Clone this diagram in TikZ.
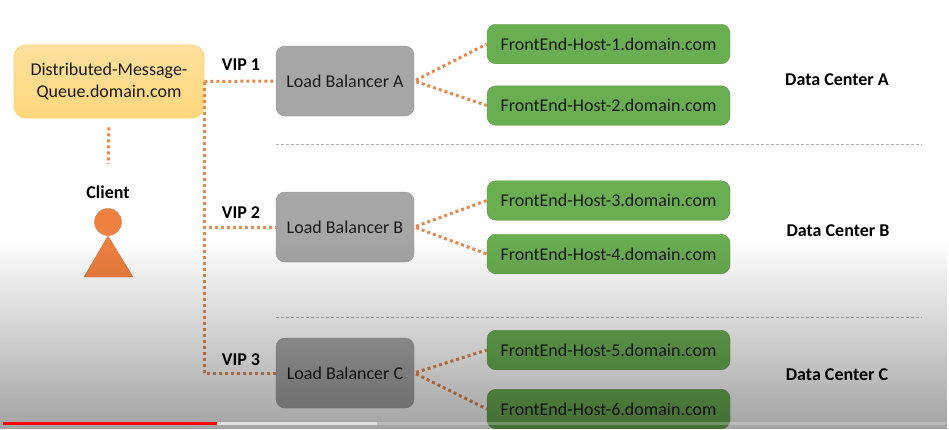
\documentclass[tikz,border=0pt]{standalone}
\usepackage{fontspec}
\setmainfont{Carlito}
\usetikzlibrary{fadings}
\definecolor{linkorange}{HTML}{E58A4E}
\definecolor{personorange}{HTML}{F08040}
\definecolor{queueyellow}{HTML}{FFD475}
\definecolor{hostgreen}{HTML}{6AAE52}
\definecolor{balgray}{HTML}{A6A6A6}
\tikzset{
  box/.style={rectangle,rounded corners=9pt,inner sep=0pt,align=center,text=black!90,font=\fontsize{18}{22}\selectfont},
  queuebox/.style={box,draw=#1,line width=0.8pt,top color=#1!70!white,bottom color=#1!95!white,minimum width=190pt,minimum height=73pt,rounded corners=12pt},
  balbox/.style={box,draw=balgray!90!black,fill=balgray,minimum width=138pt,minimum height=70pt},
  hostbox/.style={box,draw=hostgreen!85!black,fill=hostgreen,minimum width=243pt,minimum height=39.5pt},
  tag/.style={font=\bfseries\fontsize{18}{22}\selectfont,text=black},
  link/.style={draw=linkorange,line width=3pt,dash pattern=on 3pt off 3pt},
  sep/.style={draw=black!30,line width=0.6pt,dash pattern=on 3pt off 2pt},
}
\begin{document}
\begin{tikzpicture}[x=1pt,y=-1pt]
    \useasboundingbox (0,0) rectangle (949,429);
    \fill[white] (0,0) rectangle (949,429);

    % Separatori
    \coordinate (sepA1) at (276,144);
    \coordinate (sepA2) at (922,144);
    \coordinate (sepB1) at (276,317);
    \coordinate (sepB2) at (922,317);
    \draw[sep] (sepA1) -- (sepA2);
    \draw[sep] (sepB1) -- (sepB2);

    % Client
    \node[queuebox=queueyellow] (queue) at (109,81.5) {Distributed-Message-\\Queue.domain.com};
    \node[tag] (clientlabel) at (108,192) {Client};
    \node[circle,draw=linkorange!90!black,fill=personorange,minimum size=27pt,inner sep=0pt] (head) at (108,222) {};
    \fill[personorange,draw=linkorange!90!black,line width=0.4pt] (108,236) -- (133,277) -- (84,277) -- cycle;

    % Load balancer
    \node[balbox] (lbA) at (345,81) {Load Balancer A};
    \node[balbox] (lbB) at (345,227) {Load Balancer B};
    \node[balbox] (lbC) at (345,373) {Load Balancer C};

    % Host
    \node[hostbox] (host1) at (608.5,44) {FrontEnd-Host-1.domain.com};
    \node[hostbox] (host2) at (608.5,105.5) {FrontEnd-Host-2.domain.com};
    \node[hostbox] (host3) at (608.5,200.5) {FrontEnd-Host-3.domain.com};
    \node[hostbox] (host4) at (608.5,254) {FrontEnd-Host-4.domain.com};
    \node[hostbox] (host5) at (608.5,350) {FrontEnd-Host-5.domain.com};
    \node[hostbox] (host6) at (608.5,409) {FrontEnd-Host-6.domain.com};

    % Collegamenti
    \draw[link,shorten <=9pt,shorten >=18pt] (queue.south) -- (clientlabel.north);
    \draw[link] (queue.east) -- (lbA.west);
    \draw[link] (queue.east) |- (lbB.west);
    \draw[link] (queue.east) |- (lbC.west);
    \foreach \bal/\up/\down in {lbA/host1/host2,lbB/host3/host4,lbC/host5/host6} {
        \draw[link,shorten <=2pt] (\bal.east) -- (\up.west);
        \draw[link,shorten <=2pt] (\bal.east) -- (\down.west);
    }

    % Etichette
    \node[tag] (vip1) at (241,65) {VIP 1};
    \node[tag] (vip2) at (241,213) {VIP 2};
    \node[tag] (vip3) at (241,360) {VIP 3};
    \node[tag] (dcA) at (837,79.5) {Data Center A};
    \node[tag] (dcB) at (838,230.5) {Data Center B};
    \node[tag] (dcC) at (837,374.5) {Data Center C};

    % Sfumatura in basso
    \fill[black,opacity=0.36,path fading=north] (0,238) rectangle (949,429);

    % Barra di avanzamento
    \fill[white,opacity=0.25] (3,422) rectangle (946,425);
    \fill[white,opacity=0.55] (217,422) rectangle (377,425);
    \fill[red] (3,422) rectangle (217,425);
\end{tikzpicture}
\end{document}
